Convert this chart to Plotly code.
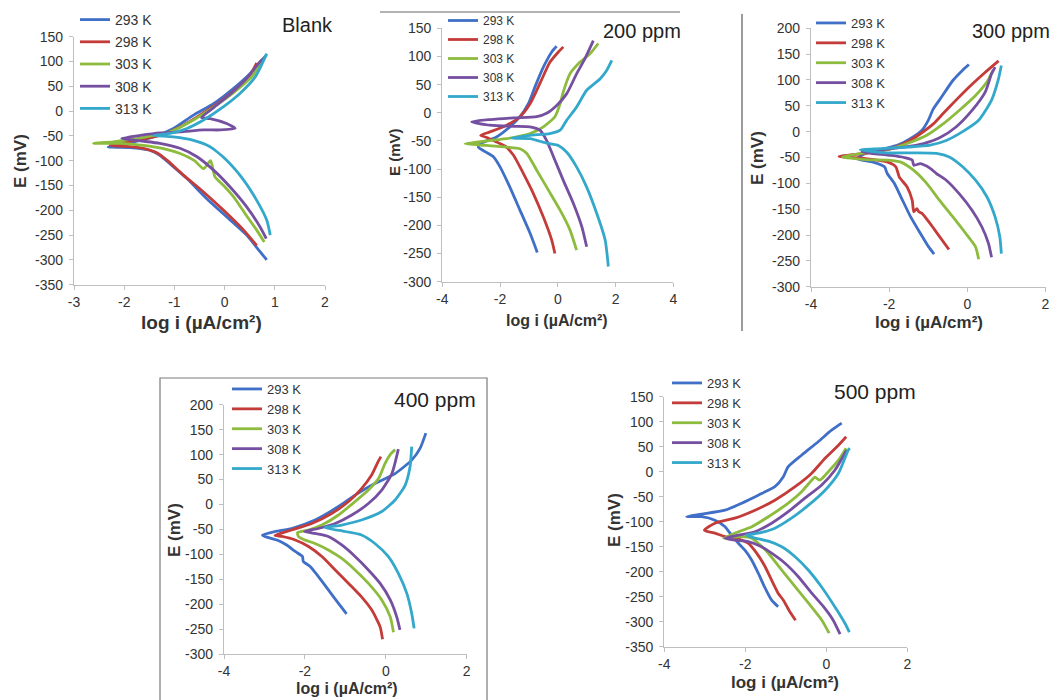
import plotly.graph_objects as go

W, H = 1060, 700
PAGE_OFFSET = 8  # the page body margin shifts the figure by this many pixels

temps = ["293 K", "298 K", "303 K", "308 K", "313 K"]
colors = ["#3F6FC6", "#C43C3A", "#8DBB3E", "#7650A0", "#33A8CB"]
panel_titles = ["Blank", "200 ppm", "300 ppm", "400 ppm", "500 ppm"]
x_title = "log i (µA/cm²)"
y_title = "E (mV)"

# ---- Blank ----
blank_logi = [
    [0.84, 0.71, 0.44, 0.04, -0.36, -0.75, -1.09, -1.29, -1.49, -1.82, -2.32, -1.95, -1.42, -1.02, -0.62, -0.22, 0.18, 0.51, 0.83],
    [0.64, 0.38, -0.02, -0.42, -0.82, -1.15, -1.35, -1.62, -1.95, -2.28, -1.82, -1.29, -0.89, -0.49, -0.09, 0.24, 0.51, 0.64],
    [0.79, 0.64, 0.41, 0.18, -0.02, -0.19, -0.22, -0.28, -0.42, -0.6, -0.9, -1.2, -1.62, -2.08, -2.61, -2.22, -1.62, -1.09, -0.62, -0.16, 0.24, 0.57, 0.74],
    [0.83, 0.71, 0.44, 0.11, -0.22, -0.55, -0.89, -1.29, -1.68, -2.05, -1.68, -1.29, -0.89, -0.42, -0.09, 0.21, 0.04, -0.29, -0.46, -0.22, 0.11, 0.44, 0.71, 0.79],
    [0.91, 0.84, 0.64, 0.38, 0.04, -0.29, -0.62, -1.02, -1.42, -1.09, -0.75, -0.42, -0.02, 0.31, 0.61, 0.84],
]
blank_E = [
    [-300, -284, -250, -213, -176, -136, -106, -89, -79, -74, -72, -65, -52, -35, -8, 15, 46, 76, 113],
    [-271, -240, -200, -163, -129, -99, -84, -75, -71, -69, -60, -49, -32, -8, 19, 46, 73, 97],
    [-264, -240, -207, -173, -150, -133, -123, -100, -116, -100, -85, -76, -69, -65, -65, -62, -53, -42, -18, 12, 42, 73, 103],
    [-257, -234, -193, -153, -119, -92, -75, -65, -60, -55, -49, -44, -42, -38, -38, -35, -25, -15, -13, 7, 34, 66, 100, 106],
    [-250, -220, -180, -139, -99, -72, -59, -52, -49, -45, -35, -18, 9, 36, 69, 116],
]

# ---- 200 ppm ----
ppm200_logi = [
    [-0.71, -0.96, -1.31, -1.66, -2.0, -2.23, -2.52, -2.75, -2.69, -2.12, -1.66, -1.31, -1.02, -0.79, -0.5, -0.21, -0.04],
    [-0.1, -0.21, -0.5, -0.85, -1.19, -1.54, -1.83, -2.12, -2.46, -2.67, -2.35, -1.77, -1.31, -0.96, -0.62, -0.27, 0.02, 0.19],
    [0.65, 0.42, 0.08, -0.33, -0.73, -1.08, -1.31, -1.77, -2.46, -3.21, -2.46, -1.54, -0.96, -0.5, -0.1, 0.08, 0.19, 0.42, 0.77, 1.12, 1.4],
    [1.0, 0.83, 0.54, 0.19, -0.15, -0.39, -0.62, -0.96, -1.54, -2.35, -2.98, -2.35, -1.54, -0.73, -0.39, -0.04, 0.31, 0.65, 0.94, 1.23],
    [1.75, 1.64, 1.35, 1.0, 0.65, 0.31, 0.02, -0.39, -0.96, -1.6, -0.96, -0.27, 0.08, 0.31, 0.65, 1.0, 1.46, 1.69, 1.87],
]
ppm200_E = [
    [-248, -214, -173, -132, -96, -78, -69, -61, -55, -43, -25, -7, 16, 46, 81, 108, 118],
    [-250, -226, -185, -143, -108, -75, -59, -52, -44, -40, -34, -22, -7, 16, 52, 90, 108, 117],
    [-244, -208, -173, -137, -102, -72, -64, -61, -58, -55, -50, -44, -37, -25, -7, 16, 37, 69, 90, 105, 123],
    [-238, -202, -161, -120, -78, -49, -31, -25, -24, -22, -16, -12, -9, -7, -1, 13, 34, 69, 96, 128],
    [-273, -226, -179, -132, -96, -70, -58, -54, -46, -45, -40, -37, -31, -13, 10, 40, 60, 75, 93],
]

# ---- 300 ppm ----
ppm300_logi = [
    [-0.85, -0.99, -1.2, -1.45, -1.7, -1.87, -2.05, -2.12, -2.41, -2.7, -2.82, -2.61, -2.12, -1.78, -1.45, -1.16, -1.0, -0.87, -0.66, -0.37, -0.12, 0.04],
    [-0.47, -0.71, -0.95, -1.16, -1.24, -1.29, -1.37, -1.41, -1.54, -1.74, -1.83, -2.03, -2.61, -3.28, -2.61, -1.95, -1.54, -1.2, -0.87, -0.62, -0.29, 0.04, 0.46, 0.8],
    [0.29, 0.21, -0.04, -0.37, -0.71, -1.04, -1.37, -1.7, -2.03, -2.61, -3.2, -2.61, -1.95, -1.54, -1.04, -0.62, -0.21, 0.21, 0.5, 0.66],
    [0.62, 0.54, 0.37, 0.12, -0.21, -0.54, -0.79, -0.95, -1.2, -1.37, -1.41, -1.62, -1.95, -2.45, -2.7, -2.2, -1.62, -1.12, -0.71, -0.29, 0.12, 0.46, 0.62, 0.71],
    [0.87, 0.83, 0.71, 0.5, 0.21, -0.12, -0.46, -0.79, -1.37, -2.12, -2.74, -2.2, -1.54, -0.95, -0.54, -0.12, 0.29, 0.62, 0.79, 0.87],
]
ppm300_E = [
    [-237, -223, -197, -165, -126, -100, -81, -68, -59, -55, -52, -42, -33, -26, -13, 3, 22, 44, 67, 99, 119, 130],
    [-228, -203, -178, -158, -155, -149, -155, -133, -107, -88, -68, -59, -52, -48, -42, -33, -20, -4, 15, 35, 61, 86, 115, 137],
    [-247, -223, -197, -165, -133, -100, -75, -59, -55, -54, -49, -41, -33, -23, -7, 15, 41, 70, 96, 119],
    [-243, -216, -184, -152, -120, -94, -81, -71, -62, -65, -55, -50, -46, -42, -39, -35, -30, -23, -12, 9, 41, 77, 112, 125],
    [-236, -203, -165, -126, -94, -68, -49, -42, -41, -41, -35, -33, -30, -26, -17, 0, 22, 61, 100, 128],
]

# ---- 400 ppm ----
ppm400_logi = [
    [-0.97, -1.17, -1.42, -1.67, -1.87, -2.04, -2.06, -2.24, -2.45, -2.66, -2.99, -3.05, -2.74, -2.33, -1.75, -1.17, -0.76, -0.27, 0.23, 0.64, 0.85, 0.99],
    [-0.08, -0.14, -0.35, -0.6, -0.92, -1.25, -1.58, -1.91, -2.24, -2.57, -2.74, -2.33, -1.83, -1.34, -0.92, -0.6, -0.35, -0.19, -0.12],
    [0.19, 0.11, -0.1, -0.43, -0.76, -1.09, -1.42, -1.75, -2.0, -2.16, -2.18, -1.91, -1.58, -1.17, -0.76, -0.43, -0.18, -0.02, 0.11, 0.23],
    [0.35, 0.27, 0.11, -0.14, -0.43, -0.76, -1.09, -1.42, -1.75, -2.01, -1.67, -1.25, -0.84, -0.43, -0.1, 0.15, 0.31],
    [0.7, 0.64, 0.52, 0.31, 0.06, -0.27, -0.6, -1.01, -1.5, -1.09, -0.6, -0.1, 0.23, 0.48, 0.6, 0.64],
]
ppm400_E = [
    [-219, -198, -171, -144, -124, -114, -104, -94, -81, -72, -64, -61, -54, -48, -31, -4, 19, 42, 62, 89, 113, 143],
    [-270, -245, -211, -185, -158, -131, -104, -84, -71, -64, -62, -51, -38, -18, 6, 32, 59, 86, 96],
    [-256, -225, -191, -158, -131, -108, -91, -78, -71, -64, -56, -51, -41, -21, 6, 29, 52, 82, 100, 110],
    [-251, -225, -191, -158, -131, -104, -81, -64, -58, -54, -48, -38, -21, 2, 29, 62, 111],
    [-248, -218, -178, -138, -104, -78, -61, -54, -46, -41, -31, -14, 9, 39, 76, 116],
]

# ---- 500 ppm ----
ppm500_logi = [
    [-1.19, -1.35, -1.51, -1.68, -1.84, -2.01, -2.17, -2.34, -2.5, -2.75, -3.08, -3.45, -3.08, -2.5, -2.09, -1.68, -1.27, -1.06, -0.94, -0.61, -0.2, 0.13, 0.38],
    [-0.76, -0.9, -1.06, -1.19, -1.35, -1.51, -1.72, -1.93, -2.17, -2.5, -2.75, -3.01, -2.75, -2.26, -1.76, -1.27, -0.77, -0.36, -0.03, 0.3, 0.49],
    [0.07, -0.11, -0.44, -0.77, -1.1, -1.43, -1.68, -1.84, -2.09, -2.34, -2.54, -2.26, -1.84, -1.43, -0.94, -0.61, -0.36, -0.28, -0.16, 0.05, 0.3, 0.49],
    [0.34, 0.17, -0.07, -0.36, -0.69, -1.02, -1.35, -1.6, -1.93, -2.26, -2.5, -2.17, -1.76, -1.35, -0.94, -0.53, -0.12, 0.21, 0.5],
    [0.57, 0.46, 0.21, -0.12, -0.44, -0.77, -1.1, -1.43, -1.76, -1.97, -1.68, -1.27, -0.86, -0.44, -0.03, 0.3, 0.54, 0.58],
]
ppm500_E = [
    [-270, -257, -233, -203, -177, -157, -143, -127, -110, -97, -90, -90, -85, -77, -63, -47, -30, -10, 10, 33, 60, 83, 97],
    [-297, -280, -257, -243, -217, -190, -163, -143, -135, -130, -123, -117, -103, -93, -77, -57, -30, -3, 27, 53, 70],
    [-323, -297, -263, -230, -197, -163, -143, -133, -130, -131, -133, -123, -110, -90, -63, -40, -17, -11, -17, 0, 23, 47],
    [-325, -297, -270, -243, -210, -183, -163, -150, -140, -137, -133, -127, -120, -103, -80, -53, -27, 3, 43],
    [-321, -303, -270, -230, -197, -170, -150, -139, -133, -127, -123, -113, -93, -67, -37, -3, 43, 47],
]

# axis ranges per panel
x_ranges = [[-3, 2], [-4, 4], [-4, 2], [-4, 2], [-4, 2]]
x_dticks = [1, 2, 2, 2, 2]
y_ranges = [[-350, 150], [-300, 150], [-300, 200], [-300, 200], [-350, 150]]
y_dtick = 50

# ---- layout geometry (screen pixels) ----
# plot boxes: (left, right, top, bottom)
boxes = [(74, 325, 36.7, 284.7), (442.3, 673.3, 28.3, 281.7), (811, 1045.5, 28.3, 286.7),
         (224, 466.7, 404.7, 654.3), (664.3, 907.3, 396.7, 646.7)]
legend_pos = [(75, 4), (443, 6), (811, 8), (227, 374), (667, 368)]
legend_gap = [1, 0, 0, 0, 0]
legend_font = [14, 12, 13, 13, 13]
title_pos = [(307, 25, 20), (642, 31, 20), (1011, 31, 20), (435, 399, 21), (875, 391, 21)]
xtitle_pos = [(201, 322, 19), (557, 320, 16), (929, 322, 17), (347, 688, 16), (785, 682, 17)]
ytitle_pos = [(20, 161, 17), (394, 152, 15), (757, 158, 17), (174, 530, 17), (614, 520, 17)]

panel_x = [blank_logi, ppm200_logi, ppm300_logi, ppm400_logi, ppm500_logi]
panel_y = [blank_E, ppm200_E, ppm300_E, ppm400_E, ppm500_E]


def fx(p):
    return (p - PAGE_OFFSET) / W


def fy(p):
    return 1 - (p - PAGE_OFFSET) / H


def ticks(lo, hi, step):
    vals = list(range(lo, hi + 1, step))
    return vals, [str(v) for v in vals]


FONT = "Liberation Sans, Arial, sans-serif"
fig = go.Figure()

for k in range(5):
    sfx = "" if k == 0 else str(k + 1)
    leg = "legend" if k == 0 else f"legend{k + 1}"
    for j in range(5):
        fig.add_trace(go.Scatter(
            x=panel_x[k][j], y=panel_y[k][j], mode="lines",
            name=temps[j], legend=leg, legendgroup=f"p{k}_{j}",
            line=dict(color=colors[j], width=2.8, shape="spline", smoothing=0.6),
            xaxis="x" + sfx, yaxis="y" + sfx, hoverinfo="skip",
        ))

layout = dict(
    width=W, height=H, margin=dict(l=0, r=0, t=0, b=0, autoexpand=False),
    paper_bgcolor="white", plot_bgcolor="white",
    font=dict(family=FONT, color="#333333", size=14),
    showlegend=True,
)

axis_common = dict(showgrid=False, zeroline=False, showline=True, linecolor="#BFBFBF",
                   linewidth=1.3, ticks="outside", ticklen=4, tickcolor="#BFBFBF",
                   tickfont=dict(size=14, color="#333333", family=FONT), fixedrange=True,
                   automargin=False)

for k in range(5):
    sfx = "" if k == 0 else str(k + 1)
    l, r, t, b = boxes[k]
    xv, xt = ticks(x_ranges[k][0], x_ranges[k][1], x_dticks[k])
    yv, yt = ticks(y_ranges[k][0], y_ranges[k][1], y_dtick)
    layout["xaxis" + sfx] = dict(axis_common, domain=[fx(l), fx(r)], range=x_ranges[k],
                                 tickmode="array", tickvals=xv, ticktext=xt, anchor="y" + sfx)
    layout["yaxis" + sfx] = dict(axis_common, domain=[fy(b), fy(t)], range=y_ranges[k],
                                 tickmode="array", tickvals=yv, ticktext=yt, anchor="x" + sfx,
                                 ticklabelstandoff=3)
    leg = "legend" if k == 0 else f"legend{k + 1}"
    lx, ly = legend_pos[k]
    layout[leg] = dict(x=fx(lx), y=fy(ly), xanchor="left", yanchor="top",
                       bgcolor="rgba(0,0,0,0)", borderwidth=0,
                       font=dict(size=legend_font[k], color="#333333", family=FONT),
                       tracegroupgap=legend_gap[k], itemclick=False, itemdoubleclick=False)

annotations = []
for k in range(5):
    px, py, fs = title_pos[k]
    annotations.append(dict(text=panel_titles[k], x=fx(px), y=fy(py), xref="paper", yref="paper",
                            showarrow=False, xanchor="center", yanchor="middle",
                            font=dict(size=fs, color="#222222", family=FONT)))
    px, py, fs = xtitle_pos[k]
    annotations.append(dict(text="<b>" + x_title + "</b>", x=fx(px), y=fy(py), xref="paper", yref="paper",
                            showarrow=False, xanchor="center", yanchor="middle",
                            font=dict(size=fs, color="#333333", family=FONT)))
    px, py, fs = ytitle_pos[k]
    annotations.append(dict(text="<b>" + y_title + "</b>", x=fx(px), y=fy(py), xref="paper", yref="paper",
                            showarrow=False, xanchor="center", yanchor="middle", textangle=-90,
                            font=dict(size=fs, color="#333333", family=FONT)))
layout["annotations"] = annotations

# image frame fragments seen in the composite
layout["shapes"] = [
    dict(type="line", xref="paper", yref="paper", x0=fx(380), x1=fx(680), y0=fy(12), y1=fy(12),
         line=dict(color="#9A9A9A", width=1.5)),
    dict(type="line", xref="paper", yref="paper", x0=fx(742), x1=fx(742), y0=fy(14), y1=fy(331),
         line=dict(color="#666666", width=1.3)),
    dict(type="rect", xref="paper", yref="paper", x0=fx(160), x1=fx(487), y0=fy(378), y1=fy(702),
         line=dict(color="#7A7A7A", width=1.2)),
]

fig.update_layout(**layout)
fig.write_html("out.html")
